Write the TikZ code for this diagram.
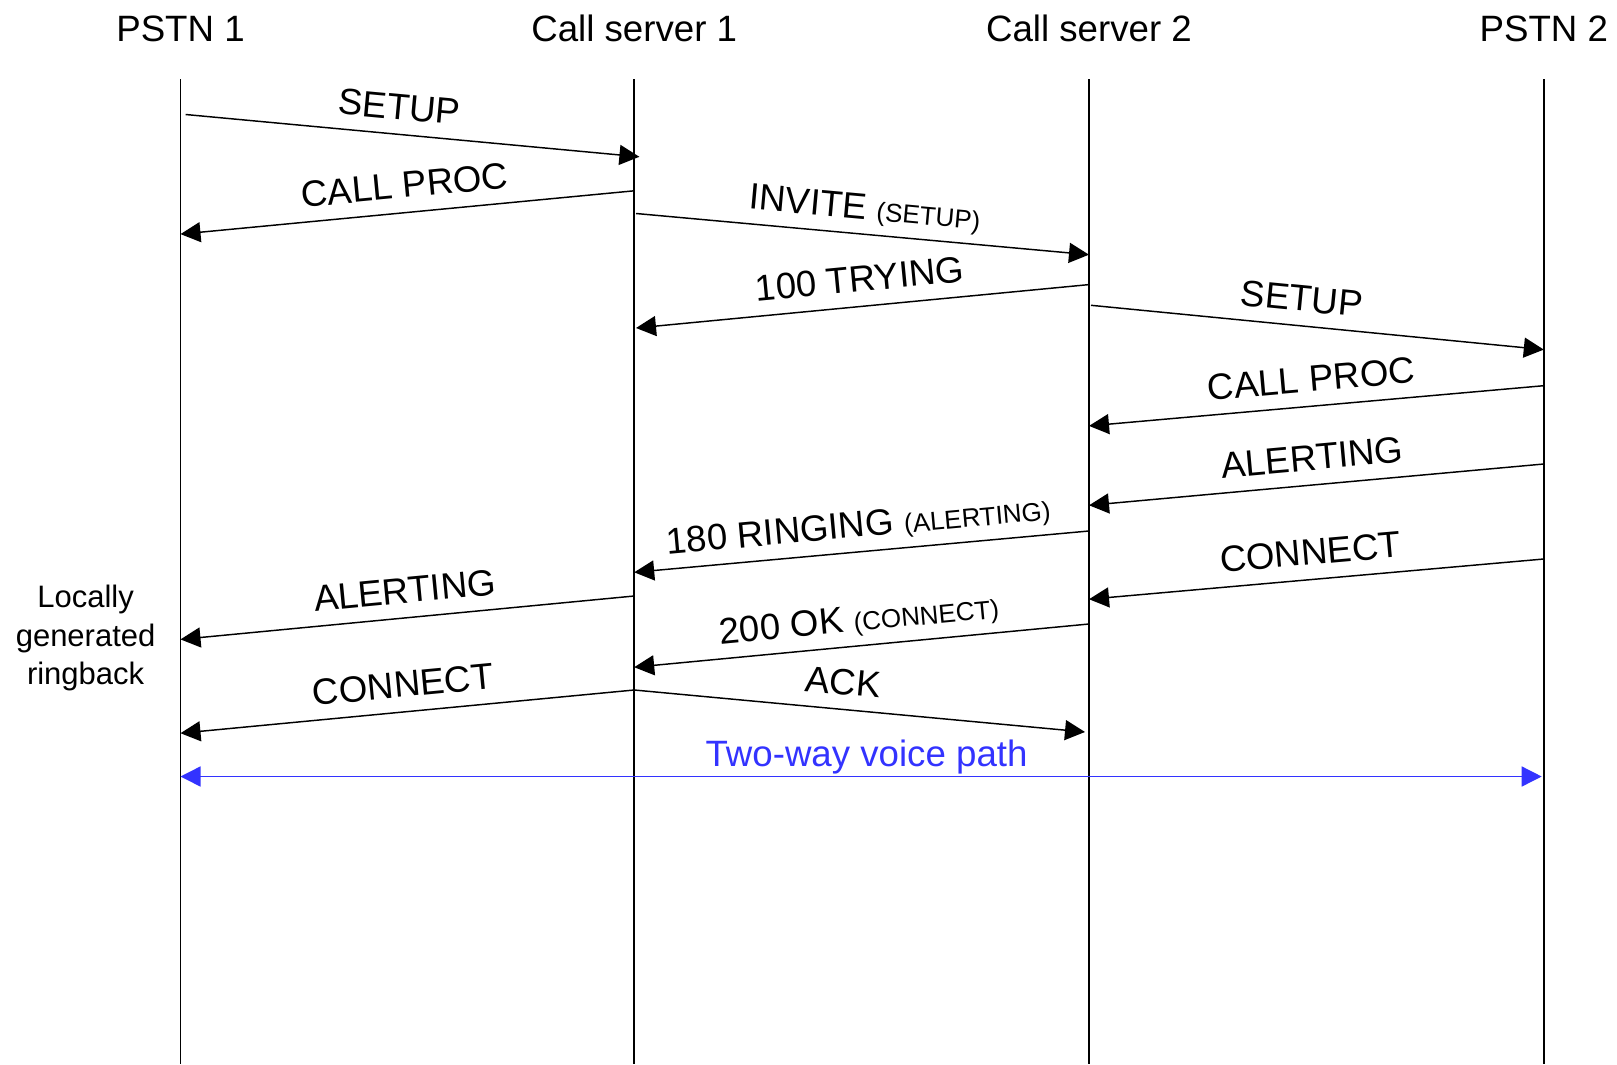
\documentclass[tikz,border=0pt]{standalone}
\usepackage{fontspec}
\setmainfont{Liberation Sans}
\usetikzlibrary{arrows.meta}
\definecolor{voiceblue}{RGB}{51,51,255}
\newcommand{\smalllbl}[1]{{\fontsize{19.5}{23}\selectfont #1}}
\begin{document}
\begin{tikzpicture}[x=0.75pt,y=-0.75pt,
  life/.style={line width=1.1pt},
  msg/.style={line width=1.1pt,-{Triangle[length=15pt,width=15pt]}},
  voice/.style={line width=1.1pt,draw=voiceblue,{Triangle[length=15pt,width=15pt]}-{Triangle[length=15pt,width=15pt]}},
  lblbase/.style={sloped,inner sep=0pt,text depth=0pt,font=\fontsize{27.5}{33}\selectfont},
  lbl/.style={lblbase,above=10.5pt},
  vlbl/.style={lblbase,above=6.75pt,text=voiceblue},
  hdr/.style={anchor=base,inner sep=0pt,font=\fontsize{27.5}{33}\selectfont},
  ]
\useasboundingbox (0,0) rectangle (1617,1064);
% headers
\node[hdr] (h1) at (180.5,41) {PSTN 1};
\node[hdr] (h2) at (634.2,41) {Call server 1};
\node[hdr] (h3) at (1089,41) {Call server 2};
\node[hdr] (h4) at (1543.8,41) {PSTN 2};
% lifelines
\coordinate (l1t) at (180.5,79.4);  \coordinate (l1b) at (180.5,1064);
\coordinate (l2t) at (634.2,79.4);  \coordinate (l2b) at (634.2,1064);
\coordinate (l3t) at (1089,79.4);   \coordinate (l3b) at (1089,1064);
\coordinate (l4t) at (1543.8,79.4); \coordinate (l4b) at (1543.8,1064);
\draw[life] (l1t) -- (l1b);
\draw[life] (l2t) -- (l2b);
\draw[life] (l3t) -- (l3b);
\draw[life] (l4t) -- (l4b);
% message end points
\coordinate (m1s) at (185.6,114.5); \coordinate (m1e) at (639.4,156.8);
\coordinate (m2s) at (634.2,190.8); \coordinate (m2e) at (180.5,234.1);
\coordinate (m3s) at (636,213.5);   \coordinate (m3e) at (1089,254.7);
\coordinate (m4s) at (1089,284.6);  \coordinate (m4e) at (636,328);
\coordinate (m5s) at (1091,305.3);  \coordinate (m5e) at (1543.8,349.6);
\coordinate (m6s) at (1543.8,385.7);\coordinate (m6e) at (1089,425.9);
\coordinate (m7s) at (1543.8,464);  \coordinate (m7e) at (1089,505.3);
\coordinate (m8s) at (1089,531);    \coordinate (m8e) at (634.2,572.3);
\coordinate (m9s) at (1543.8,559);  \coordinate (m9e) at (1089,599.2);
\coordinate (m10s) at (634.2,596);  \coordinate (m10e) at (180.5,639.4);
\coordinate (m11s) at (1089,624);   \coordinate (m11e) at (634.2,667.2);
\coordinate (m12s) at (634.2,690);  \coordinate (m12e) at (180.5,733.2);
\coordinate (m13s) at (634.2,690);  \coordinate (m13e) at (1085,732);
\coordinate (v1) at (180.5,776.5);  \coordinate (v2) at (1541.7,776.5);
% messages
\draw[msg] (m1s) -- node[lbl,pos=0.466] (t1) {SETUP} (m1e);
\draw[msg] (m2s) -- node[lbl,pos=0.5] (t2) {CALL PROC} (m2e);
\draw[msg] (m3s) -- node[lbl,pos=0.5] (t3) {INVITE \smalllbl{(SETUP)}} (m3e);
\draw[msg] (m4s) -- node[lbl,pos=0.5] (t4) {100 TRYING} (m4e);
\draw[msg] (m5s) -- node[lbl,pos=0.46] (t5) {SETUP} (m5e);
\draw[msg] (m6s) -- node[lbl,pos=0.506] (t6) {CALL PROC} (m6e);
\draw[msg] (m7s) -- node[lbl,pos=0.504] (t7) {ALERTING} (m7e);
\draw[msg] (m8s) -- node[lbl,pos=0.502] (t8) {180 RINGING \smalllbl{(ALERTING)}} (m8e);
\draw[msg] (m9s) -- node[lbl,pos=0.508] (t9) {CONNECT} (m9e);
\draw[msg] (m10s) -- node[lbl,pos=0.5] (t10) {ALERTING} (m10e);
\draw[msg] (m11s) -- node[lbl,pos=0.5] (t11) {200 OK \smalllbl{(CONNECT)}} (m11e);
\draw[msg] (m12s) -- node[lbl,pos=0.504] (t12) {CONNECT} (m12e);
\draw[msg] (m13s) -- node[lbl,pos=0.458] (t13) {ACK} (m13e);
\draw[voice] (v1) -- node[vlbl,pos=0.504] (t14) {Two-way voice path} (v2);
% side note
\node[align=center,inner sep=0pt,font=\fontsize{23.25}{28.9}\selectfont] (note) at (85.6,638) {Locally\\generated\\ringback};
\end{tikzpicture}
\end{document}
